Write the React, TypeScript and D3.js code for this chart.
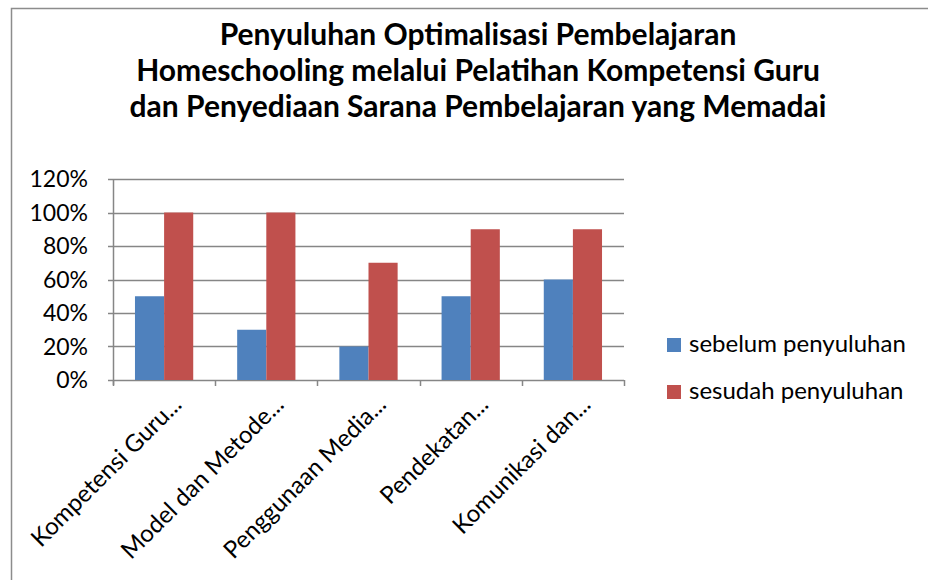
import { useEffect, useRef } from "react";
import * as d3 from "d3";

const titleLines = [
  "Penyuluhan Optimalisasi Pembelajaran",
  "Homeschooling melalui Pelatihan Kompetensi Guru",
  "dan Penyediaan Sarana Pembelajaran yang Memadai",
];
const categories = [
  "Kompetensi Guru...",
  "Model dan Metode...",
  "Penggunaan Media...",
  "Pendekatan...",
  "Komunikasi dan...",
];
const seriesNames = ["sebelum penyuluhan", "sesudah penyuluhan"];
const sebelum = [0.5, 0.3, 0.2, 0.5, 0.6];
const sesudah = [1.0, 1.0, 0.7, 0.9, 0.9];
const yTicks = [0, 0.2, 0.4, 0.6, 0.8, 1.0, 1.2];
const colors = ["#4F81BD", "#C0504D"];

const FONT = "Lato, 'Open Sans', sans-serif";

export default function App() {
  const ref = useRef<SVGSVGElement>(null);

  useEffect(() => {
    document.body.style.margin = "0";
    document.body.style.overflow = "hidden";
    const svg = d3.select(ref.current);
    svg.selectAll("*").remove();

    // chart border (right/bottom edges fall outside the picture)
    svg
      .append("rect")
      .attr("x", 11.5)
      .attr("y", 8.5)
      .attr("width", 960)
      .attr("height", 620)
      .attr("fill", "white")
      .attr("stroke", "#8c8c8c")
      .attr("stroke-width", 1.5);

    // title
    svg
      .append("g")
      .selectAll("text")
      .data(titleLines)
      .enter()
      .append("text")
      .attr("x", 478)
      .attr("y", (_, i) => 45 + i * 36)
      .attr("text-anchor", "middle")
      .attr("font-family", FONT)
      .attr("font-weight", "bold")
      .attr("font-size", 30)
      .attr("fill", "#000")
      .text((d) => d);

    const x0 = 113;
    const x1 = 624;
    const y0 = 380;
    const y1 = 179;

    const x = d3.scaleBand().domain(categories).range([x0, x1]).paddingInner(0.43).paddingOuter(0.215);
    const xs = d3.scaleBand().domain(seriesNames).range([0, x.bandwidth()]);
    const y = d3.scaleLinear().domain([0, 1.2]).range([y0, y1]);

    // gridlines
    svg
      .append("g")
      .selectAll("line")
      .data(yTicks)
      .enter()
      .append("line")
      .attr("x1", x0 - 5)
      .attr("x2", x1)
      .attr("y1", (d) => Math.round(y(d)) + 0.5)
      .attr("y2", (d) => Math.round(y(d)) + 0.5)
      .attr("stroke", "#868686")
      .attr("stroke-width", 1.5);

    // y labels
    svg
      .append("g")
      .selectAll("text")
      .data(yTicks)
      .enter()
      .append("text")
      .attr("x", 88)
      .attr("y", (d) => y(d) + 8)
      .attr("text-anchor", "end")
      .attr("font-family", FONT)
      .attr("font-size", 23)
      .attr("fill", "#000")
      .text((d) => d3.format(".0%")(d));

    // bars
    const rows = categories.map((c, i) => ({ c, vals: [sebelum[i], sesudah[i]] }));
    const groups = svg
      .append("g")
      .selectAll("g")
      .data(rows)
      .enter()
      .append("g")
      .attr("transform", (d) => `translate(${x(d.c)},0)`);
    groups
      .selectAll("rect")
      .data((d) => d.vals.map((v, j) => ({ v, s: seriesNames[j], j })))
      .enter()
      .append("rect")
      .attr("x", (d) => xs(d.s)!)
      .attr("y", (d) => y(d.v))
      .attr("width", xs.bandwidth())
      .attr("height", (d) => y0 - y(d.v))
      .attr("fill", (d) => colors[d.j]);

    // axes lines
    svg
      .append("line")
      .attr("x1", x0 + 0.5)
      .attr("x2", x0 + 0.5)
      .attr("y1", y1)
      .attr("y2", y0 + 5)
      .attr("stroke", "#868686")
      .attr("stroke-width", 1.5);
    const xTickPos = categories.map((c) => x(c)! - (x.step() - x.bandwidth()) / 2).concat([x1]);
    svg
      .append("g")
      .selectAll("line")
      .data(xTickPos)
      .enter()
      .append("line")
      .attr("x1", (d) => Math.round(d) + 0.5)
      .attr("x2", (d) => Math.round(d) + 0.5)
      .attr("y1", y0)
      .attr("y2", y0 + 6)
      .attr("stroke", "#868686")
      .attr("stroke-width", 1.5);

    // x labels
    svg
      .append("g")
      .selectAll("text")
      .data(categories)
      .enter()
      .append("text")
      .attr("transform", (d) => `translate(${x(d)! + x.bandwidth() / 2 + 19},${y0 + 26}) rotate(-45)`)
      .attr("text-anchor", "end")
      .attr("font-family", FONT)
      .attr("font-size", 24)
      .attr("fill", "#000")
      .text((d) => d);

    // legend
    const lg = svg
      .append("g")
      .selectAll("g")
      .data(seriesNames)
      .enter()
      .append("g")
      .attr("transform", (_, i) => `translate(667,${338 + i * 47})`);
    lg.append("rect")
      .attr("width", 14)
      .attr("height", 14)
      .attr("fill", (_, i) => colors[i]);
    lg.append("text")
      .attr("x", 22)
      .attr("y", 14)
      .attr("font-family", FONT)
      .attr("font-size", 24)
      .attr("fill", "#000")
      .text((d) => d);
  }, []);

  return <svg ref={ref} width={928} height={580} style={{ display: "block" }} />;
}
